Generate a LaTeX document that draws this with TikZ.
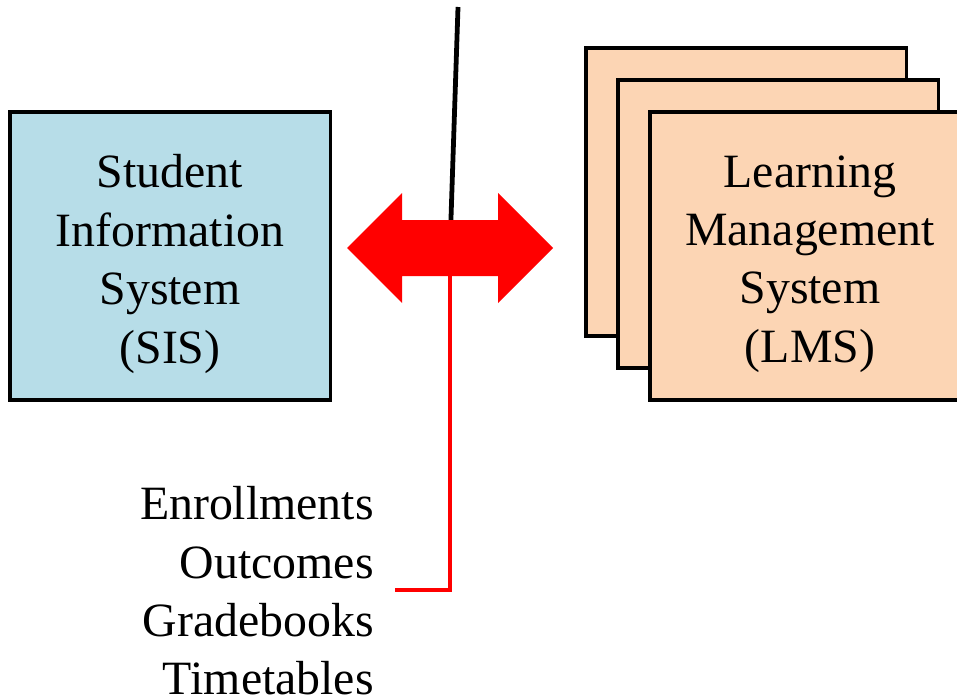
\documentclass[tikz,border=0pt]{standalone}
\usepackage{fontspec}
\setmainfont{Liberation Serif}
\definecolor{sisblue}{HTML}{B7DDE8}
\definecolor{lmspeach}{HTML}{FCD5B4}
\tikzset{box/.style = {draw, line width=2.2pt, rectangle, minimum height=7.2cm, minimum width=8cm, inner sep=0pt},
         sisbox/.style={box, fill=sisblue},
         lmsbox/.style={box, fill=lmspeach},
         boxtext/.style={inner sep=0pt, align=center, font=\fontsize{34}{41.5}\selectfont},
         link/.style={line width=3pt, line cap=butt}}

\begin{document}
\begin{tikzpicture}[x=0.025cm,y=-0.025cm]
        \useasboundingbox(0,0)rectangle(957,697);
        \node[sisbox](sis)at(170,256){};
        \node[boxtext](sistext)at([yshift=-0.2cm]sis.center){Student\\Information\\System\\(SIS)};

        \node[lmsbox](lms2)at(746,192){};
        \node[lmsbox](lms1)at(778,224){};
        \node[lmsbox](lms)at(810,256){};
        \node[boxtext](lmstext)at([yshift=-0.2cm]lms.center){Learning\\Management\\System\\(LMS)};

        \coordinate(top)at(458,7);
        \coordinate(hub)at(450,248);
        \coordinate(foot)at(450,276);
        \coordinate(corner)at(450,590);
        \coordinate(tail)at(395,590);
        \draw[link,line width=3.4pt,black](top)--(hub);
        % two-way arrow between the systems
        \fill[red](347,248)--(402,193)--(402,220)--(498,220)--(498,193)--(553,248)
                  --(498,303)--(498,276)--(402,276)--(402,303)--cycle;
        \draw[link,red](foot)--(corner)--(tail);

        \node[boxtext,align=right,anchor=east](data)at(374,591)
            {Enrollments\\Outcomes\\Gradebooks\\Timetables};
    \end{tikzpicture}
\end{document}
